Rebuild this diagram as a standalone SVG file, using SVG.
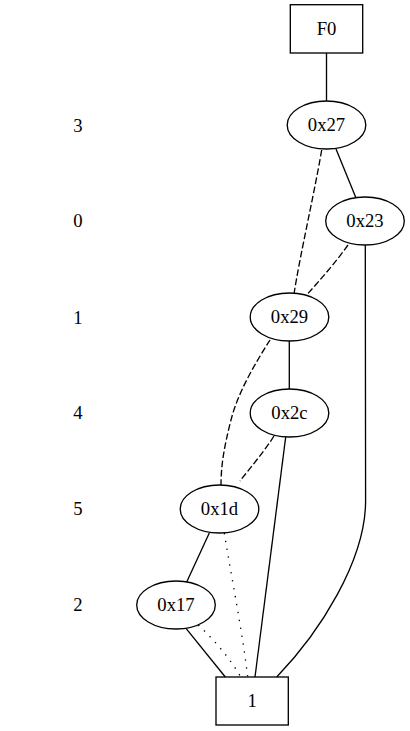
<svg xmlns="http://www.w3.org/2000/svg" width="410" height="731" viewBox="0 0 410 731">
<style>
text{font-family:"Liberation Serif","Times New Roman",serif;font-size:18.67px;text-anchor:middle;fill:#000}
.n{fill:none;stroke:#000;stroke-width:1.33}
.e{fill:none;stroke:#000;stroke-width:1.33}
.d{stroke-dasharray:6.67,2.67}
.o{stroke-dasharray:1.33,6.67}
</style>
<rect width="410" height="731" fill="#fff"/>
<g id="levels">
<text x="78" y="132">3</text>
<text x="78" y="227">0</text>
<text x="78" y="324">1</text>
<text x="78" y="419">4</text>
<text x="78" y="515">5</text>
<text x="78" y="611">2</text>
</g>
<g id="edges">
<path class="e" d="M326.5,53 L326.5,101"/>
<path class="e" d="M336,149 L356,198"/>
<path class="e d" d="M321.7,150 C314,195 300,255 294,294"/>
<path class="e d" d="M348,245 C336,262 320,280 306.7,295"/>
<path class="e" d="M289.3,341 L289.3,389"/>
<path class="e d" d="M270,340 C256,362 238,392 231,420 C224,447 221,466 221,485"/>
<path class="e d" d="M274,436 C264,452 250,468 240,481"/>
<path class="e" d="M285.7,437 L255,677"/>
<path class="e" d="M365.3,245 L365.6,500 C366,560 320,632 276.7,677"/>
<path class="e" d="M209.3,533 L186.7,582"/>
<path class="e o" d="M224.3,533 C232,580 242,630 247.7,677"/>
<path class="e" d="M186,628.3 L225.3,677"/>
<path class="e o" d="M198.3,625 C214,640 230,658 240.7,677"/>
</g>
<g id="F0"><rect class="n" x="290.3" y="4.7" width="72.4" height="48.3"/><text x="326.5" y="35">F0</text></g>
<g id="n0x27"><ellipse class="n" cx="326.5" cy="125" rx="39.3" ry="24"/><text x="326.5" y="131">0x27</text></g>
<g id="n0x23"><ellipse class="n" cx="365" cy="221" rx="39.3" ry="24"/><text x="365" y="227">0x23</text></g>
<g id="n0x29"><ellipse class="n" cx="289.5" cy="317" rx="39.3" ry="24"/><text x="289.5" y="323">0x29</text></g>
<g id="n0x2c"><ellipse class="n" cx="289.5" cy="413" rx="39.3" ry="24"/><text x="289.5" y="419">0x2c</text></g>
<g id="n0x1d"><ellipse class="n" cx="219.5" cy="509" rx="39.3" ry="24"/><text x="219.5" y="515">0x1d</text></g>
<g id="n0x17"><ellipse class="n" cx="176" cy="605" rx="39.3" ry="24"/><text x="176" y="611">0x17</text></g>
<g id="one"><rect class="n" x="216" y="677" width="72.3" height="48"/><text x="252.2" y="707">1</text></g>
</svg>
